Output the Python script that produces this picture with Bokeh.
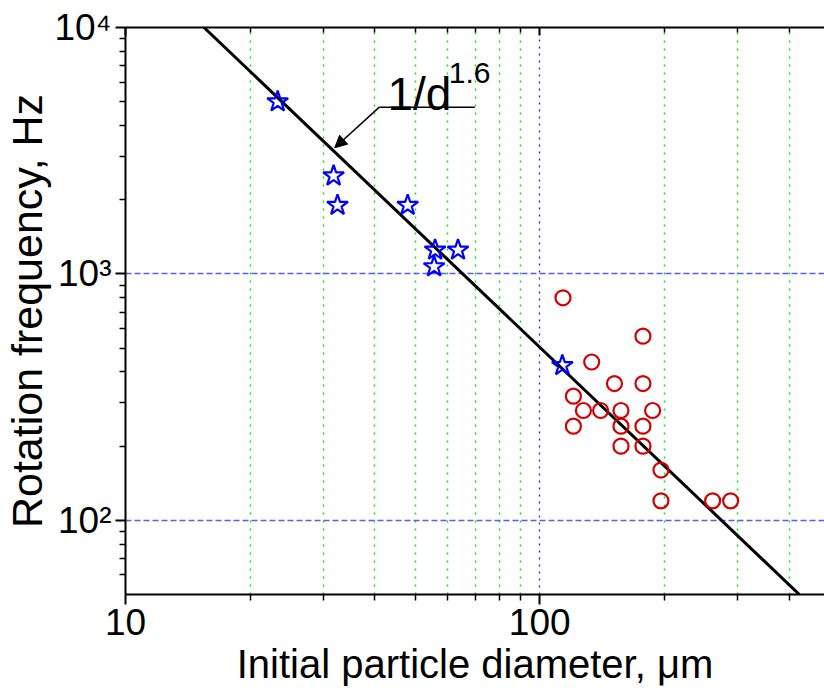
from bokeh.plotting import figure
from bokeh.models import (Range1d, LogAxis, CustomJSTickFormatter, Label, Arrow,
                          NormalHead, FixedTicker)
from bokeh.embed import file_html
from bokeh.resources import INLINE

# ---- data ----
star_d = [23.3, 31.8, 32.5, 48.0, 55.9, 55.6, 63.5, 113.4]
star_f = [5000, 2500, 1900, 1900, 1250, 1070, 1250, 425]

circ_d = [113.8, 177.5, 133.5, 151.5, 177.5, 120.6, 127.5, 140.3, 157.1, 187.3,
          120.6, 157.1, 177.5, 157.1, 177.5, 196.2, 196.2, 261.5, 289.0]
circ_f = [800, 559, 439, 359, 359, 319, 279, 279, 279, 279,
          241, 241, 241, 200, 200, 160, 120, 120, 120]

fit_d = [15.47, 423.5]      # line 1/d^1.6 endpoints
fit_f = [10000, 50]

x_major = [10, 100]
x_minor = [20, 30, 40, 50, 60, 70, 80, 90, 200, 300, 400]
y_major = [100, 1000, 10000]
y_minor = [60, 70, 80, 90, 200, 300, 400, 500, 600, 700, 800, 900,
           2000, 3000, 4000, 5000, 6000, 7000, 8000, 9000]

x_label = "Initial particle diameter, \u03bcm"
y_label = "Rotation frequency, Hz"
fit_label = "1/d"
fit_exp = "1.6"

FONT = "Liberation Sans"

p = figure(width=824, height=690, x_axis_type="log", y_axis_type="log",
           x_range=Range1d(10, 487), y_range=Range1d(50, 10000),
           output_backend="svg", toolbar_location=None,
           min_border_left=125, min_border_right=0, min_border_top=27,
           min_border_bottom=96)
p.outline_line_color = None
p.background_fill_color = "white"
p.border_fill_color = "white"

xt = FixedTicker(ticks=x_major, minor_ticks=x_minor)
yt = FixedTicker(ticks=y_major, minor_ticks=y_minor)

# grids
p.xgrid.ticker = xt
p.ygrid.ticker = yt
p.xgrid.grid_line_color = "#2020ff"
p.xgrid.grid_line_dash = "2 5"
p.xgrid.grid_line_width = 1.3
p.xgrid.minor_grid_line_color = "#00ee00"
p.xgrid.minor_grid_line_dash = "2 6"
p.xgrid.minor_grid_line_width = 1.5
p.ygrid.grid_line_color = "#5a5aff"
p.ygrid.grid_line_dash = "6 3"
p.ygrid.grid_line_width = 1.3

sup_code = """
const sup = {'0':'\u2070','1':'\u00b9','2':'\u00b2','3':'\u00b3','4':'\u2074','5':'\u2075',
             '6':'\u2076','7':'\u2077','8':'\u2078','9':'\u2079','-':'\u207b'};
const e = Math.round(Math.log10(tick));
return '10' + String(e).split('').map(c => sup[c]).join('');
"""

# axes
xa = p.xaxis[0]
xa.ticker = xt
xa.formatter = CustomJSTickFormatter(code="return String(Math.round(tick));")
xa.axis_label = x_label
ya = p.yaxis[0]
ya.ticker = yt
ya.formatter = CustomJSTickFormatter(code=sup_code)
ya.axis_label = y_label
for ax in (xa, ya):
    ax.axis_line_width = 2
    ax.axis_line_color = "black"
    ax.major_tick_line_width = 2
    ax.minor_tick_line_width = 1.5
    ax.major_tick_out = 10
    ax.major_tick_in = 0
    ax.minor_tick_out = 6
    ax.minor_tick_in = 0
    ax.major_label_text_font = FONT
    ax.major_label_text_font_size = "37px"
    ax.major_label_text_color = "black"
    ax.axis_label_text_font = FONT
    ax.axis_label_text_font_style = "normal"
    ax.axis_label_text_color = "black"
xa.major_label_standoff = 4
ya.major_label_standoff = 4
xa.axis_label_text_font_size = "40px"
ya.axis_label_text_font_size = "43px"
xa.axis_label_standoff = 4
ya.axis_label_standoff = 0

top = LogAxis(ticker=xt, formatter=CustomJSTickFormatter(code="return '';"),
              major_label_text_font_size="1px",
              axis_line_width=2, major_tick_in=8, major_tick_out=0,
              minor_tick_in=5, minor_tick_out=0, major_tick_line_width=2,
              minor_tick_line_width=1.5)
p.add_layout(top, "above")

# fit line
p.line(fit_d, fit_f, line_color="black", line_width=3)

# data
p.scatter(star_d, star_f, marker="star", size=22, fill_color=None,
          line_color="blue", line_width=2.2)
p.scatter(circ_d, circ_f, marker="circle", size=15, fill_color=None,
          line_color="#d40000", line_width=2.2)

# annotation for the fit
p.add_layout(Arrow(x_start=41.0, y_start=4750, x_end=69.7, y_end=4750,
                   end=None, line_color="black", line_width=1.5))
p.add_layout(Arrow(x_start=41.0, y_start=4750, x_end=32.0, y_end=3250,
                   end=NormalHead(size=12, fill_color="black", line_color="black"),
                   line_color="black", line_width=1.5))
p.add_layout(Label(x=42.9, y=5383, text=fit_label, text_font=FONT,
                   text_font_size="46px", text_baseline="alphabetic",
                   text_color="black"))
p.add_layout(Label(x=60.3, y=6508, text=fit_exp, text_font=FONT,
                   text_font_size="30px", text_baseline="alphabetic",
                   text_color="black"))

open("out.html", "w").write(file_html(p, INLINE))
